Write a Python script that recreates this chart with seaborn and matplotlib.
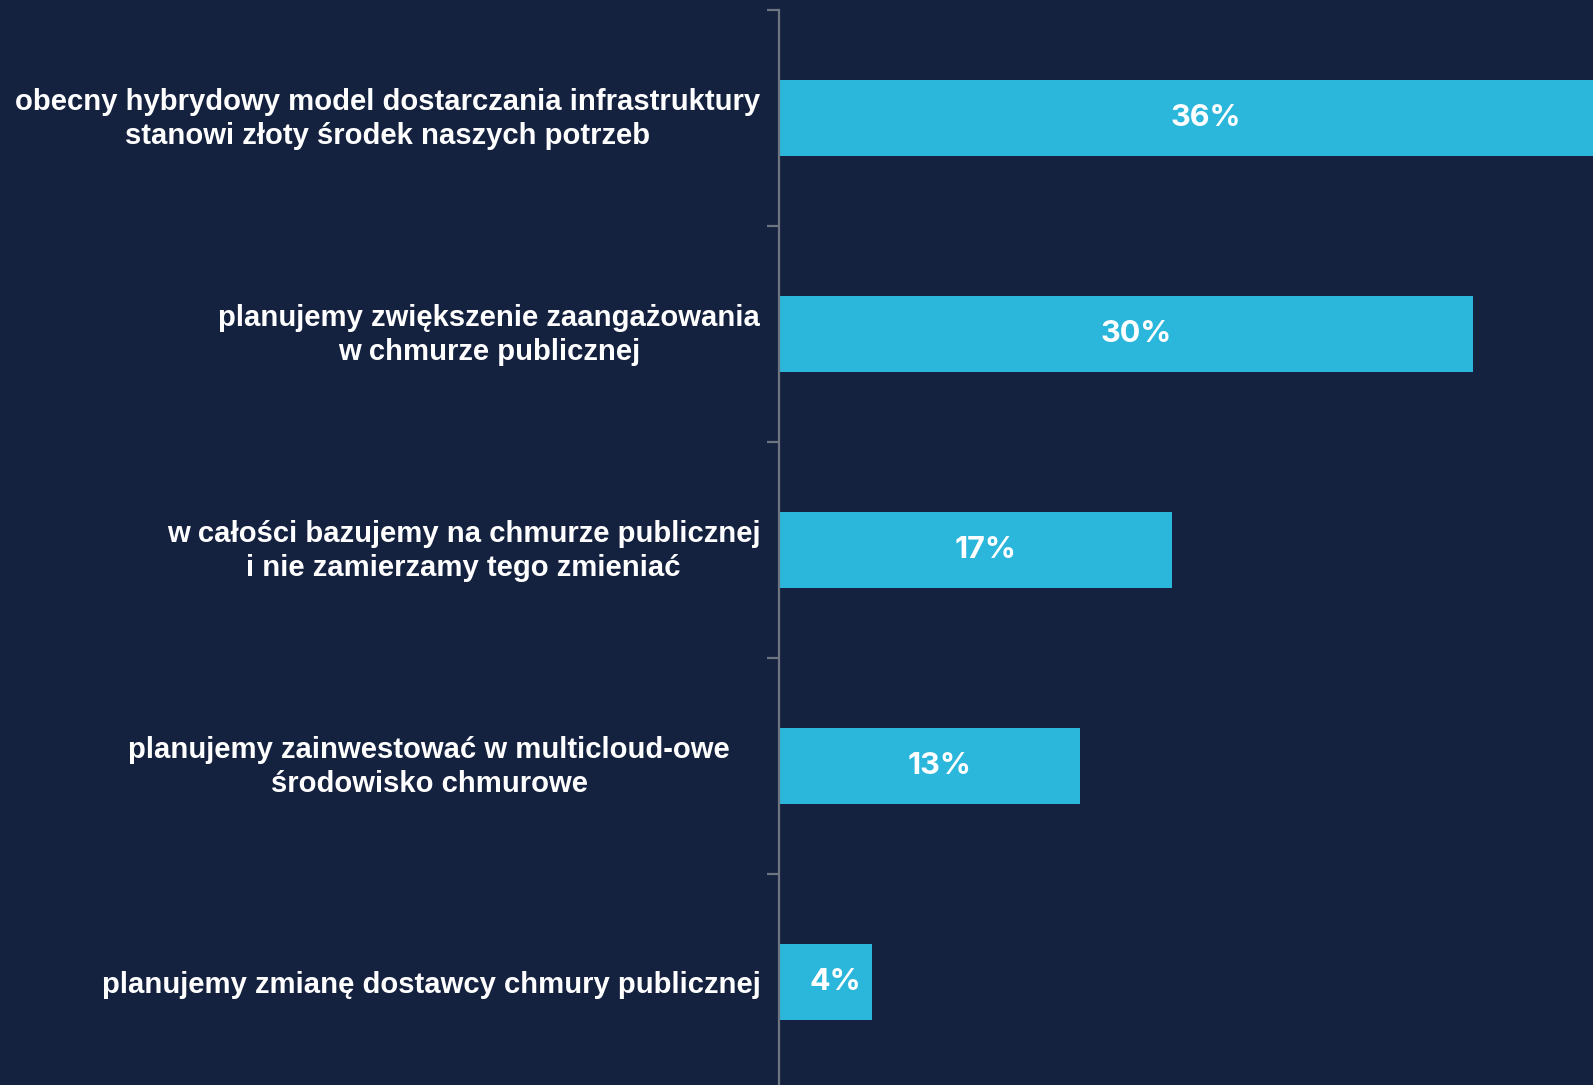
import matplotlib
matplotlib.use('Agg')
import matplotlib.pyplot as plt
import matplotlib.transforms as mtransforms
import seaborn as sns
import pandas as pd

# ── DATA ─────────────────────────────────────────────
categories = [
    'obecny hybrydowy model dostarczania infrastruktury\nstanowi złoty środek naszych potrzeb',
    'planujemy zwiększenie zaangażowania\nw chmurze publicznej',
    'w całości bazujemy na chmurze publicznej\ni nie zamierzamy tego zmieniać',
    'planujemy zainwestować w multicloud-owe\nśrodowisko chmurowe',
    'planujemy zmianę dostawcy chmury publicznej',
]
values = [36, 30, 17, 13, 4]
value_labels = ['36%', '30%', '17%', '13%', '4%']

bg = '#14213F'
bar_color = '#2BB6DC'
axis_gray = '#6E7480'

df = pd.DataFrame({'category': categories, 'value': values})

sns.set_theme(style='white')
plt.rcParams['font.family'] = ['Liberation Sans', 'DejaVu Sans']

fig = plt.figure(figsize=(15.93, 10.85), dpi=100, facecolor=bg)
ax = fig.add_axes([779 / 1593, -5 / 1085, 1 - 779 / 1593, 1080 / 1085])
ax.set_facecolor(bg)

sns.barplot(data=df, x='value', y='category', orient='h', color=bar_color,
            saturation=1, width=0.356, linewidth=0, ax=ax)

ax.set_xlim(0, 35.2)
ax.set_ylim(4.5, -0.5)
ax.set_xlabel('')
ax.set_ylabel('')
ax.set_xticks([])

for s in ['top', 'right', 'bottom']:
    ax.spines[s].set_visible(False)
ax.spines['left'].set_color(axis_gray)
ax.spines['left'].set_linewidth(1.6)

# boundary ticks between categories
ax.set_yticks([i - 0.5 for i in range(len(categories))], minor=True)
ax.tick_params(axis='y', which='minor', length=9, width=1.6, color=axis_gray,
               direction='out', left=True)
ax.tick_params(axis='y', which='major', length=0, pad=13.5)
ax.set_yticks(range(len(categories)))
ax.set_yticklabels(categories, fontsize=21.1, fontweight='bold', color='white',
                   multialignment='center', linespacing=1.25)

# two-line labels sit a bit higher, the 4th a little further left
for k, lab in enumerate(ax.get_yticklabels()):
    dx = -0.30 if k == 3 else 0
    dy = 0.05 if '\n' in categories[k] else 0
    lab.set_transform(lab.get_transform() +
                      mtransforms.ScaledTranslation(dx, dy, fig.dpi_scale_trans))

for i, (v, t) in enumerate(zip(values, value_labels)):
    ax.text(v / 2 + 0.45, i, t, ha='center', va='center', color='white',
            fontsize=22, fontweight='bold', family=['Inter', 'DejaVu Sans'])

plt.savefig('out.png', dpi=100, facecolor=bg)
